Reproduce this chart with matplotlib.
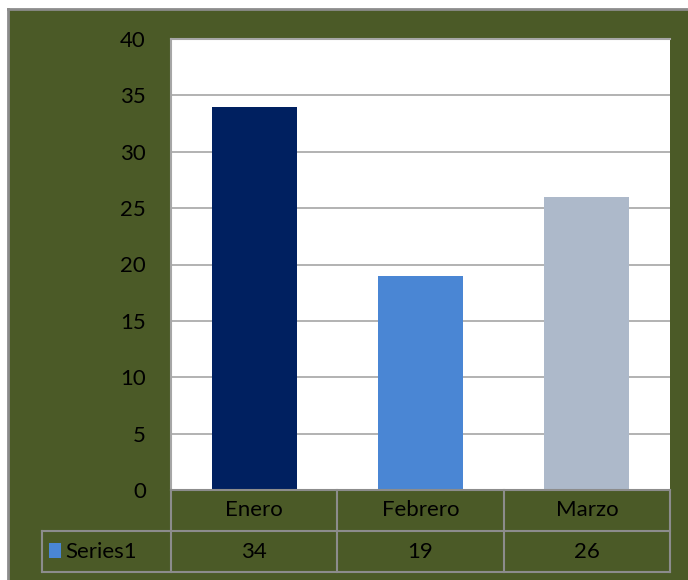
import matplotlib
matplotlib.use("Agg")
import matplotlib.pyplot as plt
from matplotlib.lines import Line2D
from matplotlib.patches import Rectangle

plt.rcParams['font.family'] = ['Lato', 'DejaVu Sans']

categories = ["Enero", "Febrero", "Marzo"]
values = [34, 19, 26]
series_name = "Series1"
bar_colors = ["#002060", "#4A86D4", "#ADB9CA"]
yticks = [0, 5, 10, 15, 20, 25, 30, 35, 40]

bg = "#4B5A27"
line_gray = "#8C8C8C"
W, H = 688, 580

fig = plt.figure(figsize=(W / 100, H / 100), dpi=100)
fig.patch.set_facecolor("white")
# green chart area with gray frame on top/left
fig.patches.append(Rectangle((8 / W, 0), 1, 1 - 9 / H, transform=fig.transFigure,
                             facecolor=bg, edgecolor="none", zorder=-10))
fig.lines.append(Line2D([8 / W, 1], [1 - 9 / H, 1 - 9 / H], transform=fig.transFigure,
                        color=line_gray, lw=2, zorder=-5))
fig.lines.append(Line2D([8 / W, 8 / W], [0, 1 - 9 / H], transform=fig.transFigure,
                        color=line_gray, lw=2, zorder=-5))

x0, x1, ytop, ybot = 171, 670, 39, 490
ax = fig.add_axes([x0 / W, (H - ybot) / H, (x1 - x0) / W, (ybot - ytop) / H])
ax.set_facecolor("white")

xs = list(range(len(categories)))
ax.bar(xs, values, width=0.51, color=bar_colors, zorder=3)
ax.set_xlim(-0.5, len(categories) - 0.5)
ax.set_ylim(0, 40)
ax.set_yticks(yticks)
ax.set_yticklabels([str(t) for t in yticks], fontsize=16, color="black")
ax.yaxis.grid(True, color="#A6A6A6", lw=1.2, zorder=0)
ax.tick_params(axis="y", length=0, pad=18)
ax.set_xticks([])
for s in ["right", "bottom"]:
    ax.spines[s].set_visible(False)
for s in ["top", "left"]:
    ax.spines[s].set_color("#A6A6A6")
    ax.spines[s].set_linewidth(1.5)

# data table below the axes
def fy(py):
    return 1 - py / H

def fx(px):
    return px / W

row1, row2, row3 = 490, 531, 572
cell_edges = [171, 337.3, 503.7, 670]
for xe in cell_edges:
    fig.lines.append(Line2D([fx(xe), fx(xe)], [fy(row1), fy(row3)],
                            transform=fig.transFigure, color=line_gray, lw=1.5))
fig.lines.append(Line2D([fx(42), fx(42)], [fy(row2), fy(row3)],
                        transform=fig.transFigure, color=line_gray, lw=1.5))
fig.lines.append(Line2D([fx(171), fx(670)], [fy(row1), fy(row1)],
                        transform=fig.transFigure, color=line_gray, lw=1.5))
fig.lines.append(Line2D([fx(42), fx(670)], [fy(row2), fy(row2)],
                        transform=fig.transFigure, color=line_gray, lw=1.5))
fig.lines.append(Line2D([fx(42), fx(670)], [fy(row3), fy(row3)],
                        transform=fig.transFigure, color=line_gray, lw=1.5))

for i, (c, v) in enumerate(zip(categories, values)):
    cx = (cell_edges[i] + cell_edges[i + 1]) / 2
    fig.text(fx(cx), fy((row1 + row2) / 2), c, ha="center", va="center",
             fontsize=16, color="black")
    fig.text(fx(cx), fy((row2 + row3) / 2), str(v), ha="center", va="center",
             fontsize=16, color="black")

fig.patches.append(Rectangle((fx(49), fy(558)), 12 / W, 15 / H, transform=fig.transFigure,
                             facecolor="#4A86D4", edgecolor="none"))
fig.text(fx(65), fy((row2 + row3) / 2), series_name, ha="left", va="center",
         fontsize=16, color="black")

fig.savefig("out.png", dpi=100, facecolor=fig.get_facecolor())
